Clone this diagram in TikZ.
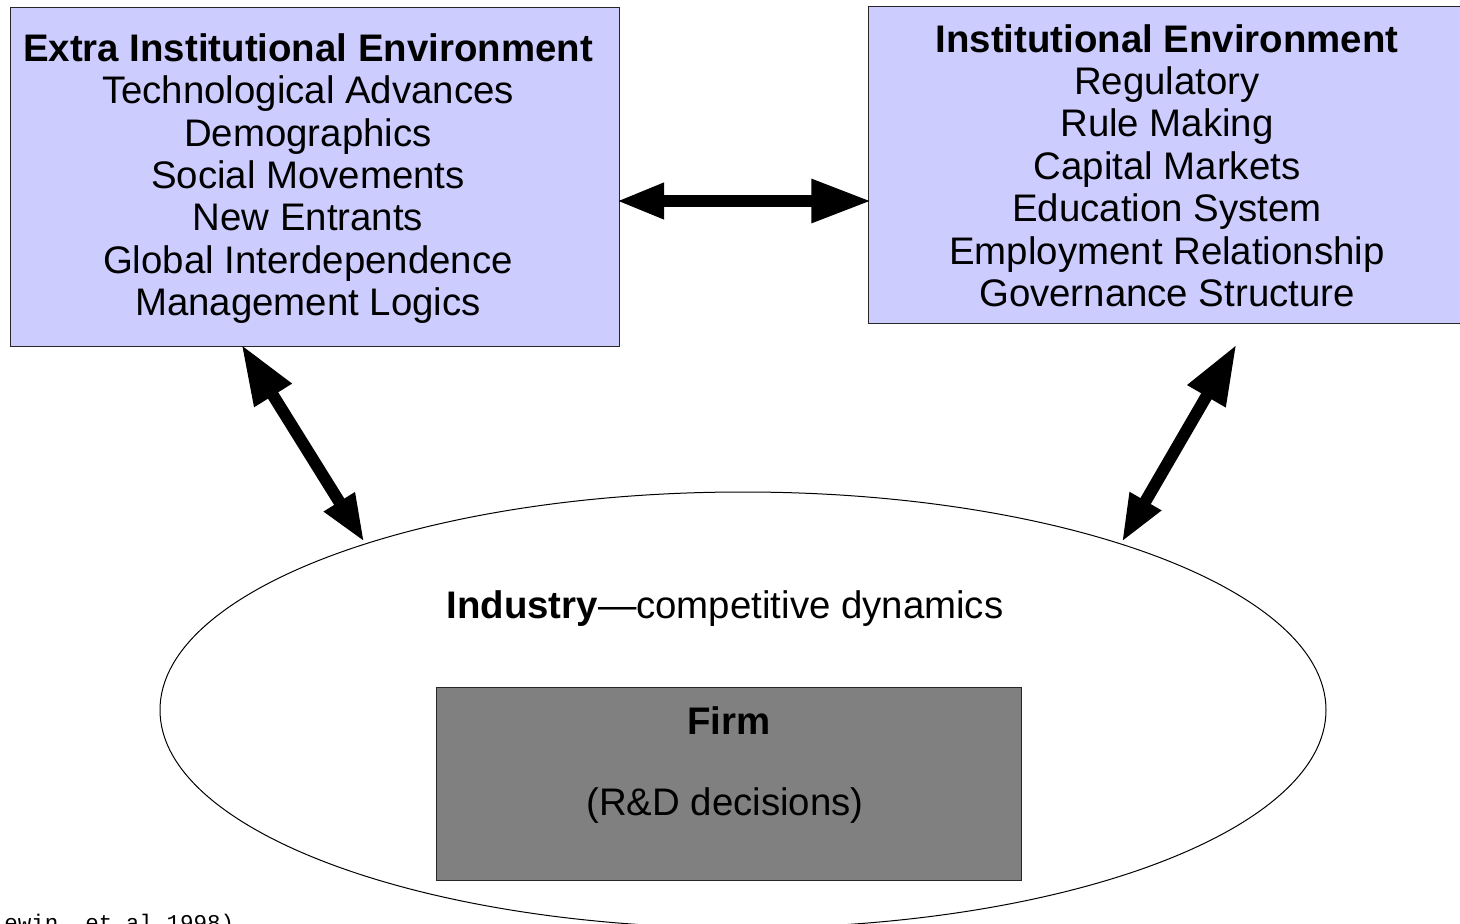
\documentclass[tikz,border=0pt]{standalone}
\usepackage{fontspec}
\setmainfont{Liberation Sans}
\newfontfamily\citefont{Liberation Mono}
\usetikzlibrary{arrows.meta,shapes.geometric}
\definecolor{boxblue}{HTML}{CCCCFF}
\definecolor{firmgray}{HTML}{808080}
\tikzset{
  bigtip/.tip={Triangle[length=45pt,width=30.75pt]},
  smalltip/.tip={Triangle[length=36pt,width=24.75pt]},
}
\begin{document}
\begin{tikzpicture}[x=0.75pt,y=-0.75pt,
  bigfont/.style={font=\fontsize{28.8}{31.8}\selectfont},
  envbox/.style={draw=black!85, line width=0.75pt, fill=boxblue, inner sep=0pt, outer sep=0pt},
  envtext/.style={align=center, inner sep=0pt, bigfont},
  dblarrow/.style={line width=9pt},
]
\useasboundingbox (0,0) rectangle (1460,924);
\clip (0,0) rectangle (1460,924);

% industry ellipse
\node (industry) [ellipse, draw, line width=0.75pt, inner sep=0pt,
  minimum width=874.5pt, minimum height=327pt] at (743,710) {};

% environment boxes
\node (extra) [envbox, minimum width=456.75pt, minimum height=253.5pt] at (314.5,177) {};
\node (extratext) [envtext] at (308,178.5)
  {\textbf{Extra Institutional Environment}\\
   Technological Advances\\ Demographics\\ Social Movements\\ New Entrants\\
   Global Interdependence\\ Management Logics};
\node (inst) [envbox, minimum width=447.75pt, minimum height=237pt] at (1166.5,165) {};
\node (insttext) [envtext] at (1167,165.5)
  {\textbf{Institutional Environment}\\
   Regulatory\\ Rule Making\\ Capital Markets\\ Education System\\
   Employment Relationship\\ Governance Structure};

% industry label and firm
\node (indlabel) [bigfont] at (725,609) {\textbf{Industry}—competitive dynamics};
\node (firm) [draw=black!85, line width=0.75pt, fill=firmgray, inner sep=0pt,
  minimum width=438.75pt, minimum height=144.75pt] at (728.5,783.5) {};
\node (firmtitle) [bigfont] at (729,721) {\textbf{Firm}};
\node (firmsub) [bigfont] at (725,806) {(R\&D decisions)};

% citation
\node (cite) [anchor=base west, inner sep=0pt, font=\citefont\fontsize{16.9}{20}\selectfont]
  at (-23,930) {(Lewin, et al 1998)};

% connector end points
\coordinate (h) at (0,201);
\coordinate (a1top) at (241.4,344.5);
\coordinate (a1bot) at (364.6,542.5);
\coordinate (a2top) at (1236.5,344.4);
\coordinate (a2bot) at (1121.5,542.6);

\draw[dblarrow, smalltip-bigtip] ([xshift=-2.25pt]extra.east |- h) -- ([xshift=2.5pt]inst.west |- h);
\draw[dblarrow, bigtip-smalltip] (a1top) -- (a1bot);
\draw[dblarrow, bigtip-smalltip] (a2top) -- (a2bot);
\end{tikzpicture}
\end{document}
